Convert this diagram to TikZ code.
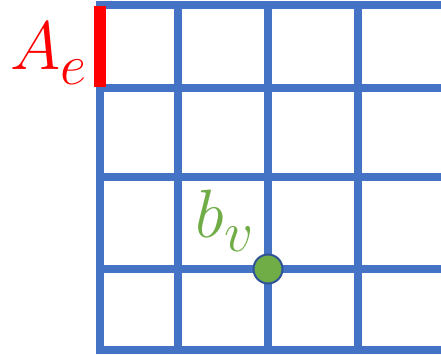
\documentclass[tikz,border=0pt]{standalone}
\usepackage{tikz}
\usepackage{xcolor}
\usetikzlibrary{positioning}
\definecolor{gridblue}{HTML}{4472C4}
\definecolor{dotedge}{HTML}{2F5597}
\definecolor{edgered}{HTML}{FF0000}
\definecolor{vertgreen}{HTML}{70AD47}
\tikzset{
  gridline/.style={draw=gridblue, line width=7.5pt, line cap=rect},
  edgebar/.style={draw=edgered, line width=12pt},
  vdot/.style={circle, fill=vertgreen, draw=dotedge, line width=2pt,
               minimum size=29pt, inner sep=0pt},
  lbl/.style={inner sep=0pt, font=\Huge, scale=2.75, transform shape},
}

\begin{document}
\begin{tikzpicture}[x=1pt, y=1pt]
  \useasboundingbox (0,0) rectangle (441,355);
  \clip (0,0) rectangle (441,355);
  % grid
  \foreach \x in {100, 178, 268, 358, 446}
    \draw[gridline] (\x,5) -- (\x,350);
  \foreach \y in {5, 86, 178, 267, 350}
    \draw[gridline] (100,\y) -- (446,\y);
  % edge and vertex
  \coordinate (etop) at (100,349);
  \coordinate (ebot) at (100,268);
  \draw[edgebar] (etop) -- (ebot);
  \node[vdot] (bv) at (268,86) {};
  \node[lbl, text=edgered, anchor=base west] (ae) at (10,285)
    {$A_{\lower1.5pt\hbox{$\scriptstyle e$}}$};
  \node[lbl, text=vertgreen, anchor=base west] (bvlab) at (195,117)
    {$b_{\lower1pt\hbox{$\scriptstyle v$}}$};
\end{tikzpicture}
\end{document}
